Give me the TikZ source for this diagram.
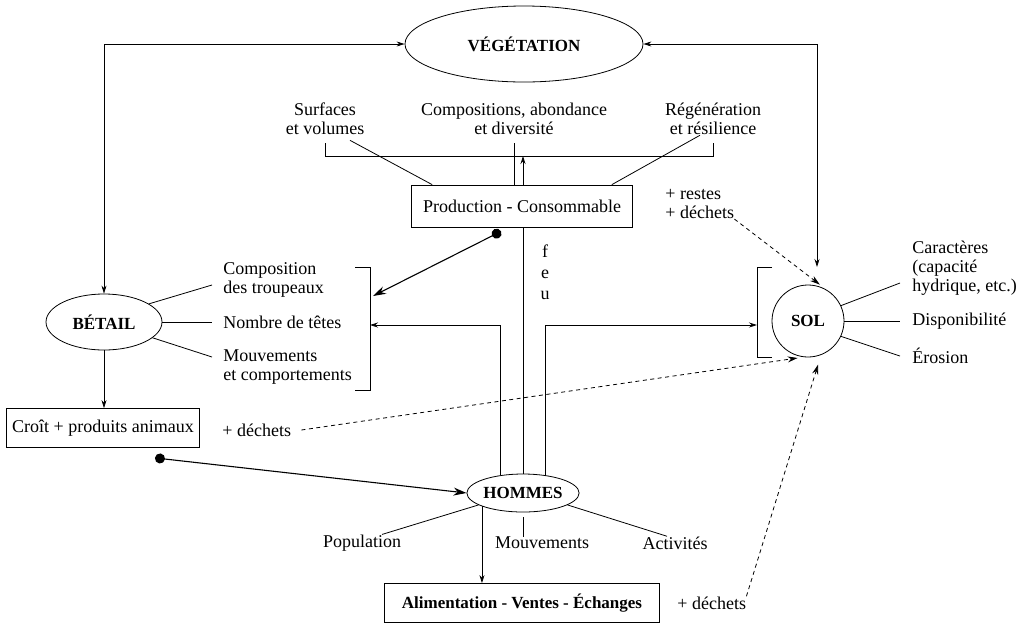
\documentclass[tikz,border=0pt]{standalone}
\usepackage{fontspec}
\setmainfont{Liberation Serif}
\usepackage{tikz}
\usetikzlibrary{arrows.meta,positioning,shapes.geometric}
\tikzset{
  ar/.style={-{Stealth[length=8pt,width=5pt]},line width=0.8pt},
  arr/.style={{Stealth[length=8pt,width=5pt]}-{Stealth[length=8pt,width=5pt]},line width=0.8pt},
  dar/.style={-{Stealth[length=10pt,width=6pt]},line width=0.8pt,dash pattern=on 4pt off 3.5pt},
  dot/.style={{Circle[length=10pt]}-{Stealth[length=13pt,width=8pt]},line width=1.1pt},
  box/.style={draw,line width=0.8pt,inner sep=0pt},
  oval/.style={draw,ellipse,line width=0.8pt,inner sep=0pt},
  hd/.style={font=\fontsize{17}{19}\selectfont\bfseries},
  lab/.style={align=center,inner sep=0pt},
  labl/.style={align=left,inner sep=0pt,anchor=west}
}

\begin{document}
\begin{tikzpicture}[x=1pt,y=-1pt,font=\fontsize{18}{19}\selectfont,line width=0.8pt]
\useasboundingbox (0,0) rectangle (1027,625);
% main nodes
\node[oval,hd,minimum width=238,minimum height=76] (veg) at (524,44) {VÉGÉTATION};
\node[oval,hd,minimum width=116,minimum height=56] (bet) at (104,322) {BÉTAIL};
\node[draw,circle,hd,minimum size=72,inner sep=0pt] (sol) at (808,321) {SOL};
\node[oval,hd,minimum width=106,minimum height=38] (hom) at (523,493) {HOMMES};
\node[box,minimum width=221,minimum height=42] (prod) at (522,206) {Production - Consommable};
\node[box,minimum width=193,minimum height=39] (croit) at (103,428) {Croît + produits animaux};
\node[box,hd,minimum width=275,minimum height=39] (alim) at (522,603) {Alimentation - Ventes - Échanges};
% labels
\node[lab] (surf) at (325,119) {Surfaces\\et volumes};
\node[lab] (comp) at (514,119) {Compositions, abondance\\et diversité};
\node[lab] (reg) at (713,119) {Régénération\\et résilience};
\node[labl] (rest) at (665,204) {+ restes\\+ déchets};
\node[lab,font=\fontsize{18}{21}\selectfont] (feu) at (545,272) {f\\e\\u};
\node[labl] (compo) at (223,280) {Composition\\des troupeaux};
\node[labl] (nomb) at (223,322) {Nombre de têtes};
\node[labl] (mouv) at (223,367) {Mouvements\\et comportements};
\node[labl] (car) at (912,268) {Caractères\\(capacité\\hydrique, etc.)};
\node[labl] (disp) at (912,321) {Disponibilité};
\node[labl] (eros) at (912,356) {Érosion};
\node[labl] (dech1) at (222,430) {+ déchets};
\node[labl] (dech2) at (677,603) {+ déchets};
\node[lab] (pop) at (362,543) {Population};
\node[lab] (mvt) at (542,543) {Mouvements};
\node[lab] (act) at (675,543) {Activités};
% bracket points
\coordinate (hl) at (325,156);
\coordinate (hr) at (713,156);
\coordinate (bbr) at (370,325);
\coordinate (sbr) at (757,325);
\coordinate (solt) at (817,267);
\coordinate (bdot) at (373,296);
% brackets
\draw (325,143) -- (hl) -- (hr) -- (713,143);
\draw (355,267) -- (370,267) -- (370,390) -- (355,390);
\draw (772,267) -- (757,267) -- (757,357) -- (772,357);
% vegetation links
\draw[arr] (bet.north) |- (veg.west);
\draw[arr] (veg.east) -| (solt);
\draw ([shift={(25,5)}]surf.south) -- ([xshift=21pt]prod.north west);
\draw ([shift={(-13,0)}]reg.south) -- ([xshift=-21pt]prod.north east);
\draw ([xshift=-8pt]prod.north) -- ++(0,-42);
\draw (hom.north) -- (hom.north |- prod.south);
\draw[ar] (hom.north |- prod.north) -- (hom.north |- hl);
% hommes links
\draw[ar] (hom.142) |- (bbr);
\draw[ar] (hom.38) |- (sbr);
\draw[ar] (hom.198) -- (hom.198 |- alim.north);
\draw (hom.195) -- ([xshift=20pt]pop.north);
\draw ([yshift=-5pt]hom.south) -- (hom.south |- mvt.north);
\draw (hom.-15) -- ([xshift=-8pt]act.north);
% betail links
\draw[ar] (bet.south) -- (bet.south |- croit.north);
\draw (bet.22) -- ([shift={(-11,5)}]compo.west);
\draw (bet.east) -- ([xshift=-11pt]nomb.west);
\draw (bet.-18) -- ([shift={(-11,-10)}]mouv.west);
% sol links
\draw (sol.25) -- ([shift={(-12,15)}]car.west);
\draw (sol.east) -- ([xshift=-12pt]disp.west);
\draw (sol.-25) -- ([xshift=-12pt]eros.west);
% flows
\draw[dot] ([shift={(52,10)}]croit.south) -- (hom.west);
\draw[dot] ([shift={(-21,4)}]prod.south) -- (bdot);
\draw[dar,shorten >=8pt] (rest.south east) -- (sol.60);
\draw[dar,shorten >=6pt] ([xshift=10pt]dech1.east) -- (sol.263);
\draw[dar,shorten >=10pt] (dech2.north east) -- (sol.291);
\end{tikzpicture}
\end{document}
